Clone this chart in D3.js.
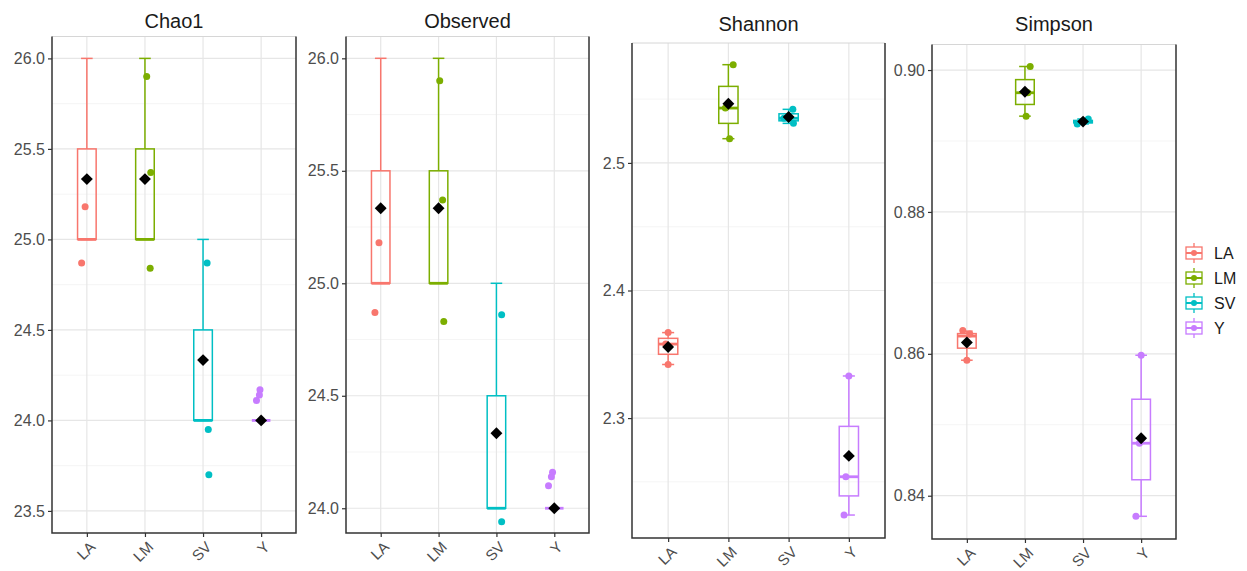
<!DOCTYPE html>
<html>
<head>
<meta charset="utf-8">
<script src="https://cdn.jsdelivr.net/npm/d3@7/dist/d3.min.js"></script>
<style>
    body { margin: 0; background: #fff; }
    svg { display: block; font-family: "Liberation Sans", Arial, sans-serif; }
</style>
</head>
<body>
<svg id="vis" width="1247" height="571"></svg>
<script>
const GROUPS = ["LA", "LM", "SV", "Y"];
const COLORS = ["#F8766D", "#7CAE00", "#00BFC4", "#C77CFF"];

// sample values per group (used for the boxes and the mean diamonds)
const CHAO1_VALUES    = [[25, 25, 26], [25, 25, 26], [24, 24, 25], [24, 24, 24]];
const OBSERVED_VALUES = [[25, 25, 26], [25, 25, 26], [24, 24, 25], [24, 24, 24]];
const SHANNON_VALUES  = [[2.342, 2.358, 2.367], [2.519, 2.543, 2.577], [2.531, 2.535, 2.542], [2.224, 2.254, 2.333]];
const SIMPSON_VALUES  = [[0.8591, 0.8625, 0.8632], [0.8935, 0.8968, 0.9005], [0.8924, 0.8927, 0.8931], [0.8371, 0.8474, 0.8598]];

// jittered points as drawn: [value, horizontal jitter in category steps]
const CHAO1_POINTS = [
    [[25.18, -0.03], [24.87, -0.09]],
    [[25.90, 0.03], [25.37, 0.10], [24.84, 0.09]],
    [[24.87, 0.07], [23.95, 0.09], [23.70, 0.10]],
    [[24.17, -0.02], [24.14, -0.03], [24.11, -0.08]]
];
const OBSERVED_POINTS = [
    [[25.18, -0.03], [24.87, -0.10]],
    [[25.90, 0.02], [25.37, 0.07], [24.83, 0.09]],
    [[24.86, 0.09], [23.94, 0.09]],
    [[24.16, -0.03], [24.14, -0.05], [24.10, -0.10]]
];
const SHANNON_POINTS = [
    [[2.367, 0.0], [2.358, -0.04], [2.342, 0.0]],
    [[2.577, 0.08], [2.543, -0.05], [2.519, 0.02]],
    [[2.542, 0.07], [2.535, -0.08], [2.531, 0.08]],
    [[2.333, 0.0], [2.254, -0.05], [2.224, -0.08]]
];
const SIMPSON_POINTS = [
    [[0.8633, -0.07], [0.8628, 0.05], [0.8591, 0.0]],
    [[0.9005, 0.09], [0.8968, 0.05], [0.8935, 0.02]],
    [[0.8924, -0.10], [0.8927, 0.0], [0.8931, 0.09]],
    [[0.8598, 0.0], [0.8474, -0.03], [0.8371, -0.09]]
];

// tick labels
const CHAO1_TICKS    = [23.5, 24.0, 24.5, 25.0, 25.5, 26.0];
const OBSERVED_TICKS = [24.0, 24.5, 25.0, 25.5, 26.0];
const SHANNON_TICKS  = [2.3, 2.4, 2.5];
const SIMPSON_TICKS  = [0.84, 0.86, 0.88, 0.90];

// panel layout (pixels)
const PANELS = [
    {title: "Chao1",    values: CHAO1_VALUES,    points: CHAO1_POINTS,    ticks: CHAO1_TICKS,    fmt: ".1f",
     x0: 52,  x1: 296,  y0: 36.5, y1: 533, domain: [23.378, 26.121], titleY: 28},
    {title: "Observed", values: OBSERVED_VALUES, points: OBSERVED_POINTS, ticks: OBSERVED_TICKS, fmt: ".1f",
     x0: 346, x1: 589,  y0: 36.5, y1: 533, domain: [23.89, 26.097],  titleY: 28},
    {title: "Shannon",  values: SHANNON_VALUES,  points: SHANNON_POINTS,  ticks: SHANNON_TICKS,  fmt: ".1f",
     x0: 632, x1: 885,  y0: 43,   y1: 538, domain: [2.206, 2.594],   titleY: 31},
    {title: "Simpson",  values: SIMPSON_VALUES,  points: SIMPSON_POINTS,  ticks: SIMPSON_TICKS,  fmt: ".2f",
     x0: 932, x1: 1176, y0: 44.5, y1: 539, domain: [0.8339, 0.9036], titleY: 31}
];

const BOX_W = 0.32;     // box width in category steps
const CAP_W = 0.2;      // whisker cap width

const svg = d3.select("#vis");

function boxStats(vals){
    const s = vals.slice().sort(d3.ascending);
    const q1 = d3.quantile(s, 0.25), q3 = d3.quantile(s, 0.75);
    const iqr = q3 - q1;
    return {
        q1: q1, q3: q3,
        med: d3.quantile(s, 0.5),
        lo: d3.min(s.filter(v => v >= q1 - 1.5 * iqr)),
        hi: d3.max(s.filter(v => v <= q3 + 1.5 * iqr)),
        mean: d3.mean(s)
    };
}

function drawPanel(p){
    const x = d3.scalePoint().domain(GROUPS).range([p.x0, p.x1]).padding(0.6);
    const y = d3.scaleLinear().domain(p.domain).range([p.y1, p.y0]);
    const step = x.step();
    const g = svg.append("g");

    // minor + major grid
    const minor = [];
    for (let i = 0; i < p.ticks.length + 1; i++){
        const d = p.ticks[1] - p.ticks[0];
        const v = p.ticks[0] + (i - 0.5) * d;
        if (v > p.domain[0] && v < p.domain[1]) minor.push(v);
    }
    g.selectAll(".minor").data(minor).enter().append("line")
        .attr("x1", p.x0).attr("x2", p.x1)
        .attr("y1", d => y(d)).attr("y2", d => y(d))
        .style("stroke", "#f2f2f2").style("stroke-width", 0.8);
    g.selectAll(".major").data(p.ticks).enter().append("line")
        .attr("x1", p.x0).attr("x2", p.x1)
        .attr("y1", d => y(d)).attr("y2", d => y(d))
        .style("stroke", "#e6e6e6").style("stroke-width", 1.2);
    g.selectAll(".vgrid").data(GROUPS).enter().append("line")
        .attr("x1", d => x(d)).attr("x2", d => x(d))
        .attr("y1", p.y0).attr("y2", p.y1)
        .style("stroke", "#e6e6e6").style("stroke-width", 1.2);

    // boxes
    p.values.forEach(function(vals, i){
        const st = boxStats(vals);
        const cx = x(GROUPS[i]);
        const col = COLORS[i];
        const bg = g.append("g").style("stroke", col).style("fill", "none").style("stroke-width", 1.5);
        // whiskers with caps
        bg.append("line").attr("x1", cx).attr("x2", cx).attr("y1", y(st.q3)).attr("y2", y(st.hi));
        bg.append("line").attr("x1", cx).attr("x2", cx).attr("y1", y(st.q1)).attr("y2", y(st.lo));
        bg.append("line").attr("x1", cx - CAP_W * step / 2).attr("x2", cx + CAP_W * step / 2)
            .attr("y1", y(st.hi)).attr("y2", y(st.hi));
        bg.append("line").attr("x1", cx - CAP_W * step / 2).attr("x2", cx + CAP_W * step / 2)
            .attr("y1", y(st.lo)).attr("y2", y(st.lo));
        bg.append("rect")
            .attr("x", cx - BOX_W * step / 2).attr("width", BOX_W * step)
            .attr("y", y(st.q3)).attr("height", Math.max(0, y(st.q1) - y(st.q3)));
        bg.append("line").attr("x1", cx - BOX_W * step / 2).attr("x2", cx + BOX_W * step / 2)
            .attr("y1", y(st.med)).attr("y2", y(st.med)).style("stroke-width", 2.8);

        // jittered points
        g.selectAll(null).data(p.points[i]).enter().append("circle")
            .attr("cx", d => cx + d[1] * step)
            .attr("cy", d => y(d[0]))
            .attr("r", 3.5)
            .style("fill", col);

        // mean diamond
        g.append("path")
            .attr("d", d3.symbol().type(d3.symbolDiamond2).size(90))
            .attr("transform", `translate(${cx},${y(st.mean)})`)
            .style("fill", "#000");
    });

    // panel border (top edge is faint in the source)
    g.append("line").attr("x1", p.x0).attr("x2", p.x1).attr("y1", p.y0).attr("y2", p.y0)
        .style("stroke", "#d6d6d6").style("stroke-width", 1);
    g.append("path")
        .attr("d", `M${p.x0},${p.y0}V${p.y1}H${p.x1}V${p.y0}`)
        .style("fill", "none").style("stroke", "#333").style("stroke-width", 1.5);

    // axes
    const yAxis = d3.axisLeft(y).tickValues(p.ticks).tickFormat(d3.format(p.fmt))
        .tickSize(4).tickPadding(3);
    const ya = svg.append("g").attr("transform", `translate(${p.x0},0)`).call(yAxis);
    ya.select(".domain").remove();
    ya.selectAll("line").style("stroke", "#333").style("stroke-width", 1.2);
    ya.selectAll("text").style("fill", "#4d4d4d").style("font-size", "16px")
        .style("font-family", "'Liberation Sans', Arial, sans-serif");

    const xAxis = d3.axisBottom(x).tickSize(4).tickPadding(3);
    const xa = svg.append("g").attr("transform", `translate(0,${p.y1})`).call(xAxis);
    xa.select(".domain").remove();
    xa.selectAll("line").style("stroke", "#333").style("stroke-width", 1.2);
    xa.selectAll("text")
        .attr("y", 0).attr("dy", null)
        .style("text-anchor", "end")
        .attr("transform", "translate(5,11) rotate(-45)")
        .attr("dominant-baseline", "central")
        .style("fill", "#4d4d4d").style("font-size", "15px")
        .style("font-family", "'Liberation Sans', Arial, sans-serif");

    // title
    svg.append("text")
        .attr("x", (p.x0 + p.x1) / 2).attr("y", p.titleY)
        .style("text-anchor", "middle").style("font-size", "20px").style("fill", "#1a1a1a")
        .text(p.title);
}

PANELS.forEach(drawPanel);

// legend
const LEGEND = {x: 1194, y: 253, dy: 25};
const lg = svg.append("g");
GROUPS.forEach(function(name, i){
    const cy = LEGEND.y + i * LEGEND.dy;
    const k = lg.append("g").attr("transform", `translate(${LEGEND.x},${cy})`)
        .style("stroke", COLORS[i]).style("fill", "none").style("stroke-width", 1.3);
    k.append("line").attr("x1", 0).attr("x2", 0).attr("y1", -10).attr("y2", 10);
    k.append("rect").attr("x", -8).attr("y", -6).attr("width", 16).attr("height", 12).style("fill", "#fff");
    k.append("line").attr("x1", -8).attr("x2", 8).attr("y1", 0).attr("y2", 0).style("stroke-width", 2);
    k.append("circle").attr("r", 3).style("fill", COLORS[i]).style("stroke", "none");
    lg.append("text").attr("x", LEGEND.x + 20).attr("y", cy)
        .attr("dominant-baseline", "central")
        .style("font-size", "16px").style("fill", "#1a1a1a")
        .text(name);
});
</script>
</body>
</html>
